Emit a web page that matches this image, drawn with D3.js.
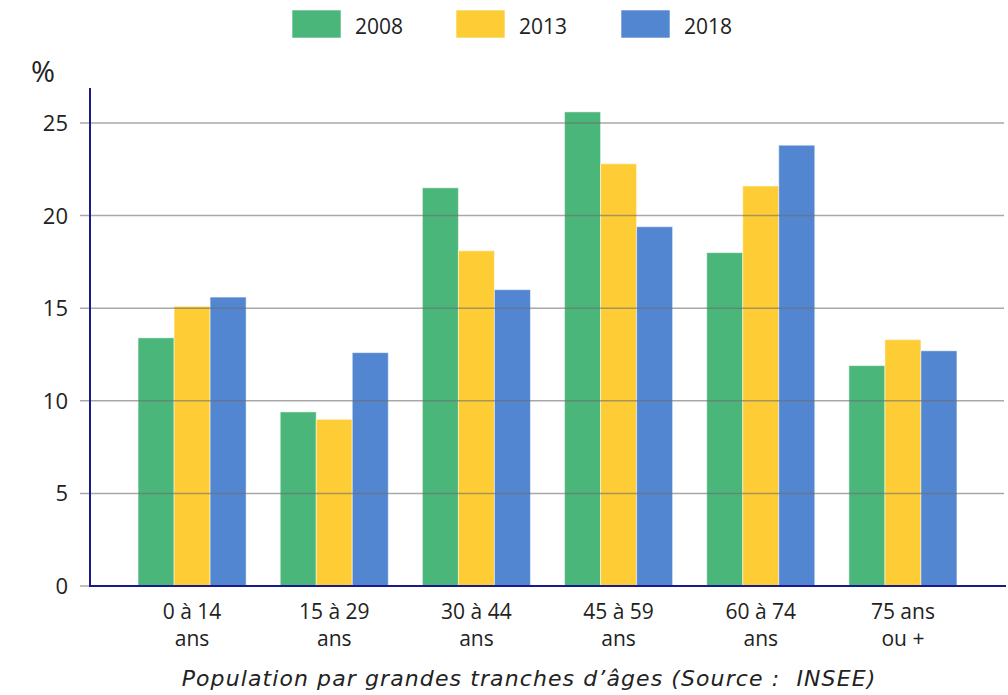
<!DOCTYPE html>
<html><head><meta charset="utf-8">
<script src="https://cdn.jsdelivr.net/npm/d3@7"></script>
<style>body{margin:0;background:#fff}</style>
</head><body>
<svg id="c" width="1008" height="695"></svg>
<script>
const categories = [["0 à 14","ans"],["15 à 29","ans"],["30 à 44","ans"],["45 à 59","ans"],["60 à 74","ans"],["75 ans","ou +"]];
const seriesNames = ["2008","2013","2018"];
const values2008 = [13.4, 9.4, 21.5, 25.6, 18.0, 11.9];
const values2013 = [15.1, 9.0, 18.1, 22.8, 21.6, 13.3];
const values2018 = [15.6, 12.6, 16.0, 19.4, 23.8, 12.7];
const yTicks = [0,5,10,15,20,25];
const colors = ["#4bb67a","#fecd35","#5286d1"];
const caption = "Population par grandes tranches d’âges (Source :  INSEE)";

const series = [values2008, values2013, values2018];
const svg = d3.select("#c");
const font = "'Open Sans', 'Noto Sans', sans-serif";
const y = d3.scaleLinear().domain([0,25]).range([586,123]);
const x0 = d3.scaleBand().domain(d3.range(categories.length)).range([121,974]).paddingInner(0.24).paddingOuter(0.12);
const x1 = d3.scaleBand().domain(d3.range(3)).range([0,x0.bandwidth()]);

// bars
const g = svg.append("g");
categories.forEach((c,i)=>{
  series.forEach((s,j)=>{
    g.append("rect").attr("x",x0(i)+x1(j)).attr("width",x1.bandwidth())
      .attr("y",y(s[i])).attr("height",y(0)-y(s[i]))
      .attr("fill",colors[j]).attr("stroke","rgba(255,255,255,0.5)").attr("stroke-width",1);
  });
});

// grid
yTicks.filter(t=>t>0).forEach(t=>{
  svg.append("line").attr("x1",80).attr("x2",1004).attr("y1",y(t)).attr("y2",y(t))
    .attr("stroke","rgba(110,110,110,0.6)").attr("stroke-width",1.5);
});
svg.append("line").attr("x1",80).attr("x2",90).attr("y1",y(0)).attr("y2",y(0)).attr("stroke","rgba(110,110,110,0.6)").attr("stroke-width",1.5);

// axes
svg.append("line").attr("x1",90).attr("x2",90).attr("y1",88).attr("y2",y(0)+1).attr("stroke","#1a1a8e").attr("stroke-width",2);
svg.append("line").attr("x1",89).attr("x2",1006).attr("y1",y(0)).attr("y2",y(0)).attr("stroke","#1a1a8e").attr("stroke-width",2);

// y labels
yTicks.forEach(t=>{
  svg.append("text").attr("x",68).attr("y",y(t)+8).attr("text-anchor","end")
    .attr("font-family",font).attr("font-size",22).attr("fill","#222").text(t);
});
svg.append("text").attr("x",31).attr("y",82).attr("font-family",font).attr("font-size",29).attr("fill","#222").text("%");

// x labels
categories.forEach((c,i)=>{
  const cx = x0(i)+x0.bandwidth()/2;
  c.forEach((line,k)=>{
    svg.append("text").attr("x",cx).attr("y",619+k*27).attr("text-anchor","middle")
      .attr("font-family",font).attr("font-size",21).attr("fill","#222").text(line);
  });
});

// caption
svg.append("text").attr("x",529).attr("y",686).attr("text-anchor","middle")
  .attr("font-family","'DejaVu Sans', sans-serif").attr("font-style","italic")
  .attr("font-size",22).attr("letter-spacing",1.1).style("white-space","pre")
  .attr("fill","#222").text(caption);

// legend
const legX = [292,456,621];
seriesNames.forEach((n,j)=>{
  svg.append("rect").attr("x",legX[j]).attr("y",10).attr("width",49).attr("height",28)
    .attr("fill",colors[j]).attr("stroke","rgba(255,255,255,0.6)");
  svg.append("text").attr("x",legX[j]+63).attr("y",34).attr("font-family",font).attr("font-size",21).attr("fill","#222").text(n);
});
</script>
</body></html>
